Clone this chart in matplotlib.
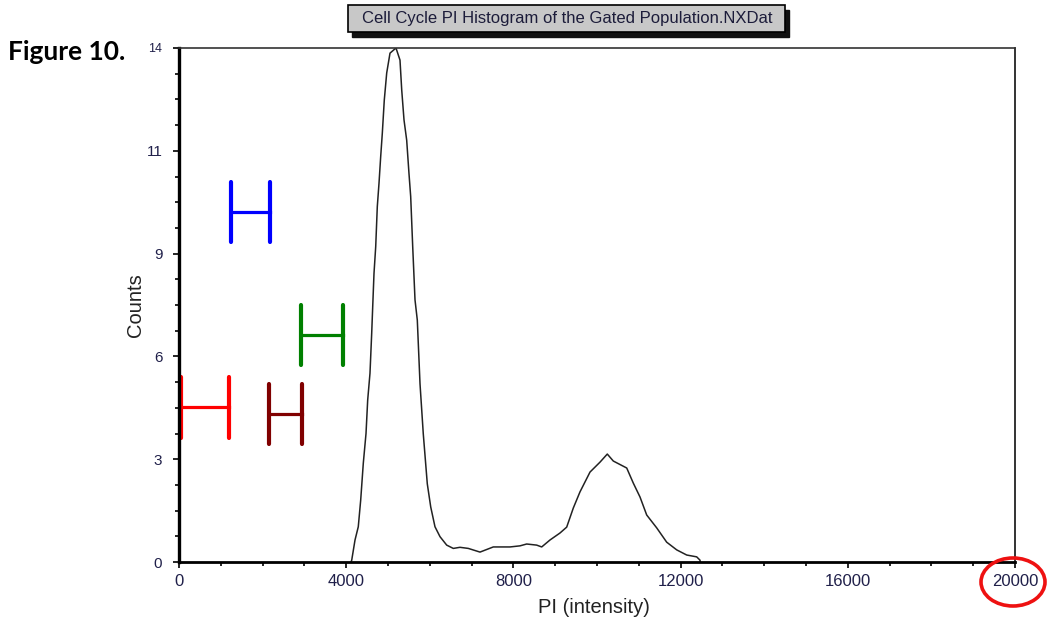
"""Cell cycle PI histogram (Figure 10) recreated with matplotlib."""

import matplotlib
matplotlib.use("Agg")
import matplotlib.pyplot as plt
from matplotlib.patches import Ellipse, Rectangle

# Histogram trace: PI intensity vs counts
pi_values = [4115, 4132, 4211, 4289, 4347, 4409, 4474, 4514, 4569, 4610,
             4634, 4665, 4706, 4744, 4785, 4825, 4864, 4911, 4969, 5048,
             5191, 5287, 5328, 5383, 5447, 5502, 5543, 5591, 5646, 5701,
             5766, 5844, 5940, 6022, 6124, 6244, 6404, 6562, 6722, 6921,
             7201, 7519, 7919, 8158, 8318, 8557, 8677, 8876, 9115, 9275,
             9433, 9593, 9833, 10072, 10246, 10390, 10711, 10868, 11029, 11189,
             11428, 11667, 11907, 12146, 12385, 12464, 12470]
counts = [0.0, 0.05, 0.60, 0.96, 1.69, 2.69, 3.50, 4.41, 5.14, 6.23,
          6.95, 7.86, 8.59, 9.68, 10.32, 11.04, 11.68, 12.58, 13.32, 13.86,
          14.0, 13.67, 12.86, 12.04, 11.49, 10.58, 9.95, 8.59, 7.14, 6.59,
          4.85, 3.49, 2.13, 1.50, 0.96, 0.69, 0.46, 0.37, 0.40, 0.37,
          0.27, 0.41, 0.41, 0.44, 0.49, 0.46, 0.41, 0.60, 0.79, 0.95,
          1.47, 1.91, 2.45, 2.72, 2.94, 2.75, 2.56, 2.15, 1.77, 1.28,
          0.93, 0.54, 0.33, 0.19, 0.14, 0.05, 0.0]

# Gate markers (the coloured "H" ranges)
gate_start = [50, 1240, 2160, 2920]
gate_end = [1200, 2180, 2935, 3930]
gate_level = [4.21, 9.54, 4.03, 6.18]
gate_colors = ["#ff0000", "#0000ff", "#800000", "#008000"]
gate_half = 0.82

# Axis ticks (the y labels are the instrument's rounded values)
x_major = [0, 4000, 8000, 12000, 16000, 20000]
y_major = [0, 2.8, 5.6, 8.4, 11.2, 14]
y_labels = ["0", "3", "6", "9", "11", "14"]

label_color = "#20204a"
plt.rcParams["font.family"] = ["Liberation Sans", "DejaVu Sans"]

W, H = 1049, 622
fig = plt.figure(figsize=(W / 100, H / 100), dpi=100)
ax = fig.add_axes([179 / W, 60 / H, 836 / W, 514 / H])

ax.plot(pi_values, counts, color="#222222", linewidth=1.1)

for x0, x1, lvl, c in zip(gate_start, gate_end, gate_level, gate_colors):
    ax.plot([x0, x1], [lvl, lvl], color=c, linewidth=2.3, clip_on=False)
    for xv in (x0, x1):
        ax.plot([xv, xv], [lvl - gate_half, lvl + gate_half], color=c,
                linewidth=3.0, solid_capstyle="round", clip_on=False)

ax.set_xlim(0, 20000)
ax.set_ylim(0, 14)
ax.set_xticks(x_major)
ax.set_xticks(range(0, 20001, 1000), minor=True)
ax.set_yticks(y_major)
ax.set_yticklabels(y_labels)
ax.set_yticks([i * 0.7 for i in range(21)], minor=True)

ax.tick_params(axis="x", which="major", direction="out", length=4, width=1.2,
               labelsize=12, labelcolor=label_color, pad=5)
ax.tick_params(axis="y", which="major", direction="out", length=4, width=1.2,
               labelsize=11, labelcolor=label_color, pad=8)
ax.tick_params(axis="both", which="minor", direction="out", length=3, width=1.2)
ax.get_yticklabels()[-1].set_fontsize(9)

ax.spines["left"].set_linewidth(2.4)
ax.spines["bottom"].set_linewidth(2.0)
ax.spines["top"].set_linewidth(1.2)
ax.spines["right"].set_linewidth(1.2)
ax.spines["top"].set_color("#333333")
ax.spines["right"].set_color("#111111")

ax.set_xlabel("PI (intensity)", fontsize=14.5, color="#222222", va="top")
ax.xaxis.set_label_coords((594 - 179) / 836, (562 - 598) / 514)
ax.set_ylabel("Counts", fontsize=14.5, color="#222222")
ax.yaxis.set_label_coords((145 - 179) / 836, (562 - 305) / 514)

# Title box with drop shadow
fig.add_artist(Rectangle((352 / W, 1 - 37 / H), 437 / W, 27 / H,
                         transform=fig.transFigure, facecolor="#111111",
                         edgecolor="#111111"))
fig.add_artist(Rectangle((348 / W, 1 - 32 / H), 437 / W, 27 / H,
                         transform=fig.transFigure, facecolor="#c8c8c8",
                         edgecolor="black", linewidth=1.2))
fig.text(567 / W, 1 - 19 / H, "Cell Cycle PI Histogram of the Gated Population.NXDat",
         ha="center", va="center", fontsize=12, color="#1c1c3a")

fig.text(8 / W, 1 - 60 / H, "Figure 10.", ha="left", va="baseline",
         fontsize=19, fontweight="bold", family=["Lato", "DejaVu Sans"])

fig.add_artist(Ellipse((1013 / W, 1 - 582 / H), 64 / W, 48 / H,
                       transform=fig.transFigure, fill=False,
                       edgecolor="#ee1111", linewidth=2.6))

fig.savefig("out.png", dpi=100)
